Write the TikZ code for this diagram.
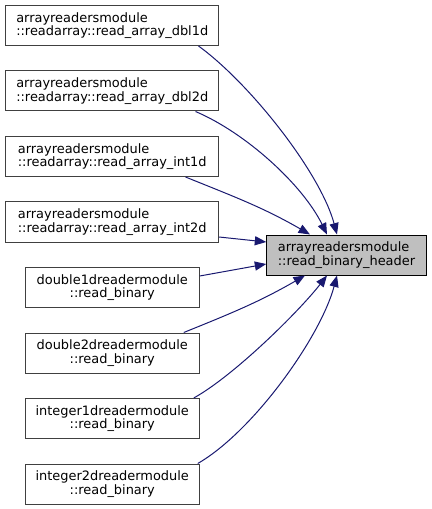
\documentclass[tikz,border=0pt]{standalone}
\usepackage{fontspec}
\setmainfont{DejaVu Sans}
\usepackage{tikz}
\usetikzlibrary{arrows.meta,calc}
\definecolor{callblue}{HTML}{191970}
\definecolor{boxgrey}{HTML}{404040}
\definecolor{rootgrey}{HTML}{BFBFBF}

\begin{document}
\begin{tikzpicture}[
        x=0.75pt, y=-0.75pt,
        >={Triangle[length=8.6pt,width=6.8pt]},
        node distance=49.125pt,
        font=\fontsize{9.7}{10}\selectfont,
        caller/.style={draw=boxgrey, line width=0.75pt, fill=white, minimum height=30pt, inner sep=0pt},
        wide/.style={caller, minimum width=159.4pt, align=left},
        narrow/.style={caller, minimum width=130.5pt, align=center},
        root/.style={draw=black, fill=rootgrey, line width=0.75pt, minimum width=119.6pt, minimum height=30pt, inner sep=0pt, align=left},
        every edge/.style={draw=callblue, line width=0.75pt}
        ]
        \useasboundingbox (0,0) rectangle (431,509);

        \node[wide] (1) at (112.25,25.5) {arrayreadersmodule\\::readarray::read\_array\_dbl1d};
        \node[wide] (2) [below of=1] {arrayreadersmodule\\::readarray::read\_array\_dbl2d};
        \node[wide] (3) [below of=2] {arrayreadersmodule\\::readarray::read\_array\_int1d};
        \node[wide] (4) [below of=3] {arrayreadersmodule\\::readarray::read\_array\_int2d};
        \node[narrow] (5) [below of=4] {double1dreadermodule\\::read\_binary};
        \node[narrow] (6) [below of=5] {double2dreadermodule\\::read\_binary};
        \node[narrow] (7) [below of=6] {integer1dreadermodule\\::read\_binary};
        \node[narrow] (8) [below of=7] {integer2dreadermodule\\::read\_binary};

        \node[root] (0) at (346.5,255) {arrayreadersmodule\\::read\_binary\_header};

        \path[->]
              ($(1.south east)+(-20.5,0)$) edge [out=-36, in=105, looseness=0.7] ($(0.north)+(-9.5,0)$)
              ($(2.south east)+(-23.5,0)$) edge [out=-23, in=116, looseness=0.78] ($(0.north)+(-19.5,0)$)
              ($(3.south east)+(-33.5,0)$) edge [out=-22, in=150] ($(0.north)+(-36.5,0)$)
              ($(4.east)+(0,15)$) edge ($(0.west)+(0,-13)$)

              ($(5.east)+(0,-11.5)$) edge ($(0.west)+(0,9)$)
              ($(6.north east)+(-16,0)$) edge [out=22, in=210] ($(0.south)+(-41.5,0)$)
              ($(7.north east)+(-6,0)$) edge [out=29, in=-128, looseness=0.65] ($(0.south)+(-19.5,0)$)
              ($(8.north east)+(-2,0)$) edge [out=30, in=-105, looseness=0.7] ($(0.south)+(-9.5,0)$);
\end{tikzpicture}
\end{document}
